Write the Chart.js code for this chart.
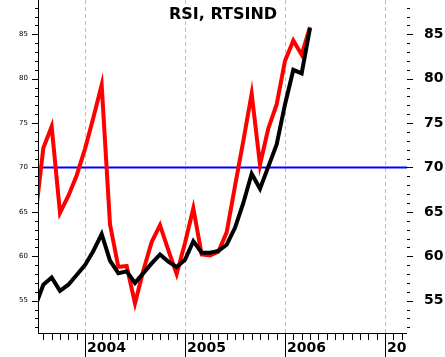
<!DOCTYPE html>
<html lang="en">
  <head>
    <meta charset="UTF-8" />
    <title>RSI, RTSIND</title>
    <style>
      html,
      body {
        margin: 0;
        padding: 0;
        background: #fff;
      }
      canvas {
        display: block;
      }
    </style>
  </head>
  <body>
    <canvas id="rsiChart" width="445" height="357"></canvas>
    <script src="https://cdn.jsdelivr.net/npm/chart.js"></script>
    <script>
      // monthly points (first one sits left of the visible range)
      const months = [
        "2003-07", "2003-08", "2003-09", "2003-10", "2003-11", "2003-12",
        "2004-01", "2004-02", "2004-03", "2004-04", "2004-05", "2004-06",
        "2004-07", "2004-08", "2004-09", "2004-10", "2004-11", "2004-12",
        "2005-01", "2005-02", "2005-03", "2005-04", "2005-05", "2005-06",
        "2005-07", "2005-08", "2005-09", "2005-10", "2005-11", "2005-12",
        "2006-01", "2006-02", "2006-03", "2006-04",
      ];
      const rsiRed = [
        64.1, 72.2, 74.6, 64.9, 66.8, 69.1,
        72.1, 75.6, 79.3, 63.6, 58.8, 58.9,
        54.7, 58.4, 61.6, 63.5, 60.7, 58.0,
        61.5, 65.4, 60.2, 60.1, 60.5, 62.7,
        67.9, 73.0, 78.3, 70.3, 74.4, 77.1,
        82.0, 84.3, 82.7, 85.8,
      ];
      const rsiBlack = [
        54.3, 56.8, 57.6, 56.1, 56.8, 57.9,
        59.0, 60.6, 62.5, 59.5, 58.1, 58.3,
        57.0, 58.1, 59.2, 60.2, 59.4, 58.8,
        59.6, 61.7, 60.4, 60.4, 60.6, 61.3,
        63.2, 66.0, 69.3, 67.6, 70.1, 72.6,
        77.1, 81.0, 80.6, 85.7,
      ];
      const levelValue = 70;
      const yTickLabels = [55, 60, 65, 70, 75, 80, 85];
      const yearLabels = ["2004", "2005", "2006", "2007"];

      // month number counted from Jan 2004
      function monthIndex(s) {
        const [yy, mm] = s.split("-").map(Number);
        return (yy - 2004) * 12 + (mm - 1);
      }

      const xMin = -5.52;
      const xMax = 38.64;
      const yMin = 51.36;
      const yMax = 88.86;

      const redPoints = months.map((m, i) => ({ x: monthIndex(m), y: rsiRed[i] }));
      const blackPoints = months.map((m, i) => ({ x: monthIndex(m), y: rsiBlack[i] }));
      const levelPoints = [
        { x: xMin, y: levelValue },
        { x: xMax, y: levelValue },
      ];

      const axesPlugin = {
        id: "oldAxes",
        beforeDatasetsDraw(chart) {
          const { ctx, chartArea: a, scales } = chart;
          const x = scales.x;
          ctx.save();
          ctx.strokeStyle = "#bdbdbd";
          ctx.lineWidth = 1;
          ctx.setLineDash([4, 3]);
          yearLabels.forEach((_, i) => {
            const px = Math.round(x.getPixelForValue(i * 12)) + 0.5;
            ctx.beginPath();
            ctx.moveTo(px, a.top);
            ctx.lineTo(px, a.bottom);
            ctx.stroke();
          });
          ctx.restore();
        },
        afterDraw(chart) {
          const { ctx, chartArea: a, scales } = chart;
          const x = scales.x;
          const y = scales.y;
          ctx.save();
          ctx.strokeStyle = "#000";
          ctx.fillStyle = "#000";
          ctx.lineWidth = 1;

          // left axis line and bottom axis line
          ctx.beginPath();
          ctx.moveTo(a.left - 0.5, a.top);
          ctx.lineTo(a.left - 0.5, a.bottom + 1);
          ctx.moveTo(a.left - 1, a.bottom + 0.5);
          ctx.lineTo(a.right, a.bottom + 0.5);
          ctx.stroke();

          // y ticks on both sides, one per unit
          for (let v = Math.ceil(yMin); v <= Math.floor(yMax); v++) {
            const py = Math.round(y.getPixelForValue(v)) + 0.5;
            const major = v % 5 === 0;
            ctx.beginPath();
            ctx.moveTo(a.left - (major ? 7 : 4), py);
            ctx.lineTo(a.left, py);
            ctx.moveTo(a.right, py);
            ctx.lineTo(a.right + (major ? 6 : 3), py);
            ctx.stroke();
          }

          ctx.textBaseline = "middle";
          yTickLabels.forEach((v) => {
            const py = y.getPixelForValue(v);
            ctx.font = "7px 'DejaVu Sans'";
            ctx.textAlign = "right";
            ctx.fillText(String(v), a.left - 11, py);
            ctx.font = "bold 14px 'DejaVu Sans'";
            ctx.textAlign = "left";
            ctx.fillText(String(v), a.right + 17, py);
          });

          // month ticks, long marks at each new year
          for (let m = Math.ceil(xMin); m <= Math.floor(xMax); m++) {
            const px = Math.round(x.getPixelForValue(m)) + 0.5;
            ctx.beginPath();
            ctx.moveTo(px, a.bottom);
            ctx.lineTo(px, m % 12 === 0 ? chart.height : a.bottom + 7);
            ctx.stroke();
          }

          // year labels, cut off at the right edge of the plot
          ctx.save();
          ctx.beginPath();
          ctx.rect(0, a.bottom, a.right, chart.height - a.bottom);
          ctx.clip();
          ctx.font = "bold 14px 'DejaVu Sans'";
          ctx.textAlign = "left";
          ctx.textBaseline = "alphabetic";
          yearLabels.forEach((lab, i) => {
            const px = Math.round(x.getPixelForValue(i * 12));
            ctx.fillText(lab, px + 2, a.bottom + 19);
          });
          ctx.restore();

          // title
          ctx.font = "bold 16px 'DejaVu Sans'";
          ctx.textAlign = "center";
          ctx.textBaseline = "alphabetic";
          ctx.fillText("RSI, RTSIND", (a.left + a.right) / 2, 19);
          ctx.restore();
        },
      };

      const ctx = document.getElementById("rsiChart").getContext("2d");
      const rsiChart = new Chart(ctx, {
        type: "line",
        data: {
          datasets: [
            {
              label: "RSI",
              data: redPoints,
              borderColor: "#ff0000",
              borderWidth: 4,
              pointRadius: 0,
              tension: 0,
              clip: 0,
              order: 2,
            },
            {
              label: "RTSIND",
              data: blackPoints,
              borderColor: "#000000",
              borderWidth: 4,
              pointRadius: 0,
              tension: 0,
              clip: 0,
              order: 1,
            },
            {
              label: "70",
              data: levelPoints,
              borderColor: "#0000ff",
              borderWidth: 2,
              pointRadius: 0,
              clip: 0,
              order: 3,
            },
          ],
        },
        options: {
          responsive: false,
          animation: false,
          events: [],
          layout: {
            padding: { left: 39, right: 38, top: 0, bottom: 24 },
          },
          plugins: {
            legend: { display: false },
            tooltip: { enabled: false },
          },
          scales: {
            x: { type: "linear", min: xMin, max: xMax, display: false },
            y: { type: "linear", min: yMin, max: yMax, display: false },
          },
        },
        plugins: [axesPlugin],
      });
    </script>
  </body>
</html>
